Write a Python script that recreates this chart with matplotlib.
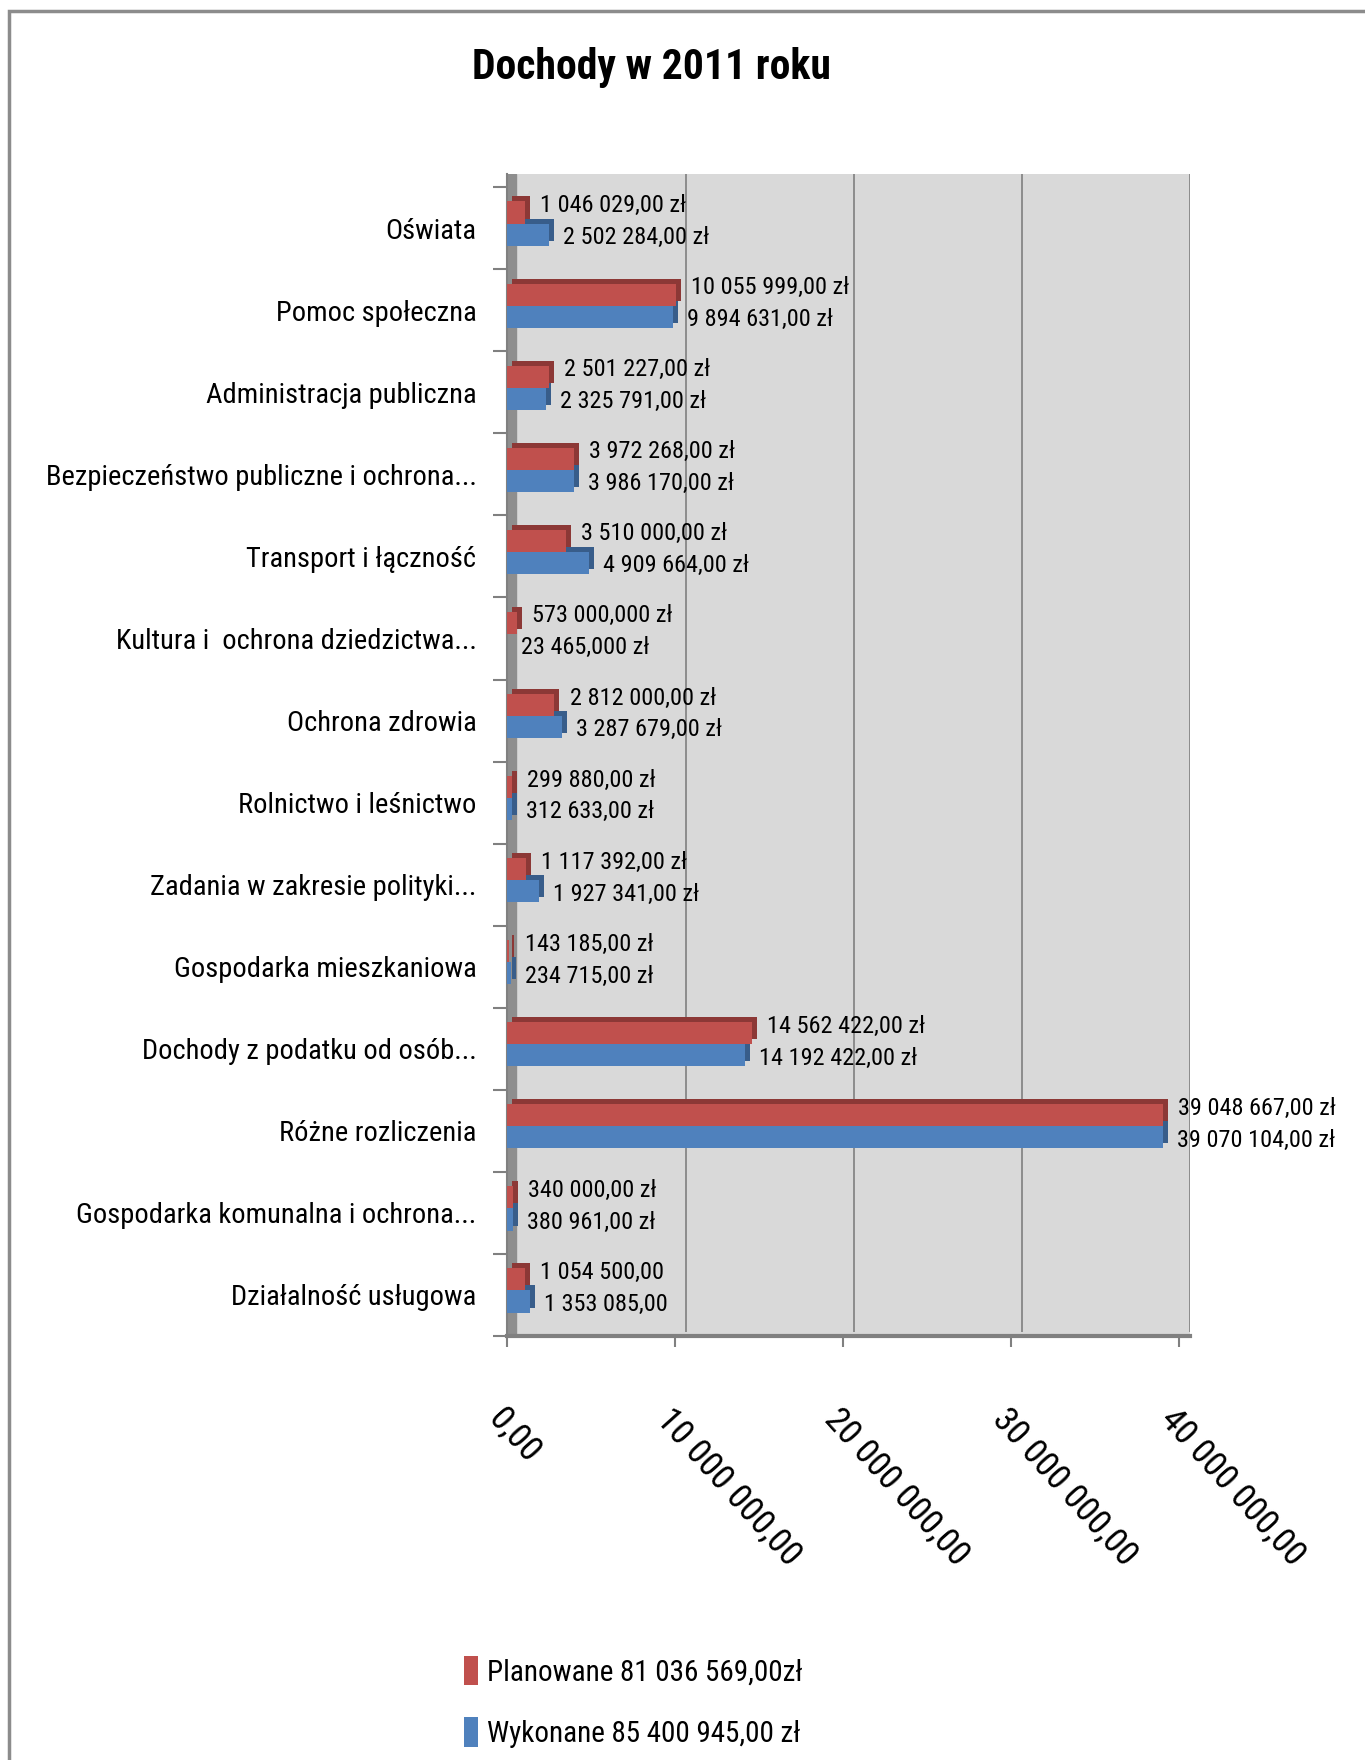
import numpy as np
import matplotlib.pyplot as plt
from matplotlib.patches import Rectangle
from matplotlib.transforms import ScaledTranslation

plt.rcParams['font.family'] = ['Roboto Condensed', 'Liberation Sans', 'DejaVu Sans']

# dane z wykresu (od gory)
kategorie = [
    'Oświata',
    'Pomoc społeczna',
    'Administracja publiczna',
    'Bezpieczeństwo publiczne i ochrona...',
    'Transport i łączność',
    'Kultura i  ochrona dziedzictwa...',
    'Ochrona zdrowia',
    'Rolnictwo i leśnictwo',
    'Zadania w zakresie polityki...',
    'Gospodarka mieszkaniowa',
    'Dochody z podatku od osób...',
    'Różne rozliczenia',
    'Gospodarka komunalna i ochrona...',
    'Działalność usługowa',
]
planowane = [1046029, 10055999, 2501227, 3972268, 3510000, 573000, 2812000,
             299880, 1117392, 143185, 14562422, 39048667, 340000, 1054500]
wykonane = [2502284, 9894631, 2325791, 3986170, 4909664, 23465, 3287679,
            312633, 1927341, 234715, 14192422, 39070104, 380961, 1353085]
etykiety_plan = ['1 046 029,00 zł', '10 055 999,00 zł', '2 501 227,00 zł', '3 972 268,00 zł',
                 '3 510 000,00 zł', '573 000,000 zł', '2 812 000,00 zł', '299 880,00 zł',
                 '1 117 392,00 zł', '143 185,00 zł', '14 562 422,00 zł', '39 048 667,00 zł',
                 '340 000,00 zł', '1 054 500,00']
etykiety_wyk = ['2 502 284,00 zł', '9 894 631,00 zł', '2 325 791,00 zł', '3 986 170,00 zł',
                '4 909 664,00 zł', '23 465,000 zł', '3 287 679,00 zł', '312 633,00 zł',
                '1 927 341,00 zł', '234 715,00 zł', '14 192 422,00 zł', '39 070 104,00 zł',
                '380 961,00 zł', '1 353 085,00']
x_ticki = [0, 10e6, 20e6, 30e6, 40e6]
x_etykiety = ['0,00', '10 000 000,00', '20 000 000,00', '30 000 000,00', '40 000 000,00']
legenda = ['Planowane 81 036 569,00zł', 'Wykonane 85 400 945,00 zł']

czerwony, czerwony_c = '#C0504D', '#8C3836'
niebieski, niebieski_c = '#4F81BD', '#385D8A'

W, H = 1365, 1760
fig = plt.figure(figsize=(W / 100, H / 100), dpi=100)

def fx(px):
    return px / W

def fy(py):
    return 1 - py / H

# ramka wykresu
fig.patches.append(Rectangle((fx(9), -0.05), 1.2, 1.05 - 11 / H, transform=fig.transFigure,
                             fill=False, ec='#8c8c8c', lw=2.5))

fig.text(fx(651), fy(68), 'Dochody w 2011 roku', ha='center', va='center',
         fontsize=30, fontweight='bold')

# obszar wykresu
ax = fig.add_axes([fx(507), fy(1336), fx(1190) - fx(507), fy(174) - fy(1336)])
ax.set_facecolor('#D9D9D9')
ax.set_xlim(0, 40e6 * (1190 - 507) / (1179 - 507))
ax.set_ylim(13.5, -0.66)

# sciana boczna
ax.add_patch(Rectangle((0, 0), 9 / 683, 1, transform=ax.transAxes, color='#8e8e8e', zorder=0.5))

# linie siatki przesuniete (efekt 3D)
przes = ax.transData + ScaledTranslation(0.11, 0, fig.dpi_scale_trans)
ax.vlines(x_ticki[1:], 13.45, -0.66, colors='#868686', lw=1.3, transform=przes, zorder=1)

y = np.arange(len(kategorie))
h = 0.27
yp = y - 0.19
yw = y + 0.08

glebia = ax.transData + ScaledTranslation(0.05, 0.05, fig.dpi_scale_trans)
ax.barh(yp, planowane, height=h, color=czerwony_c, transform=glebia, zorder=2)
ax.barh(yw, wykonane, height=h, color=niebieski_c, transform=glebia, zorder=2)
b1 = ax.barh(yp, planowane, height=h, color=czerwony, zorder=3, label=legenda[0])
b2 = ax.barh(yw, wykonane, height=h, color=niebieski, zorder=3, label=legenda[1])

for i in range(len(kategorie)):
    ax.annotate(etykiety_plan[i], (planowane[i], yp[i]), xytext=(11, 5),
                textcoords='offset points', ha='left', va='center', fontsize=17.5, zorder=5)
    ax.annotate(etykiety_wyk[i], (wykonane[i], yw[i]), xytext=(10, -2),
                textcoords='offset points', ha='left', va='center', fontsize=17.5, zorder=5)

ax.set_yticks(y)
ax.set_yticklabels(kategorie, fontsize=20.5)
ax.set_yticks(np.arange(len(kategorie) + 1) - 0.5, minor=True)
ax.tick_params(axis='y', which='major', length=0, pad=22)
ax.tick_params(axis='y', which='minor', length=10, width=1.5, color='#808080')

ax.set_xticks(x_ticki)
ax.set_xticklabels(x_etykiety, fontsize=25.5, rotation=-48, ha='left', va='top',
                   rotation_mode='anchor')
ax.tick_params(axis='x', length=8, width=1.5, color='#808080', pad=40)

for s in ['top', 'right']:
    ax.spines[s].set_visible(False)
ax.spines['left'].set_color('#808080')
ax.spines['left'].set_linewidth(1.5)
ax.spines['bottom'].set_color('#808080')
ax.spines['bottom'].set_linewidth(3)

fig.legend(handles=[b1, b2], labels=legenda, loc='upper left', bbox_to_anchor=(fx(449), fy(1641)),
           frameon=False, fontsize=21, handlelength=0.5, handleheight=1.2, handletextpad=0.3,
           labelspacing=1.05, borderpad=0)

fig.savefig('out.png', dpi=100)
